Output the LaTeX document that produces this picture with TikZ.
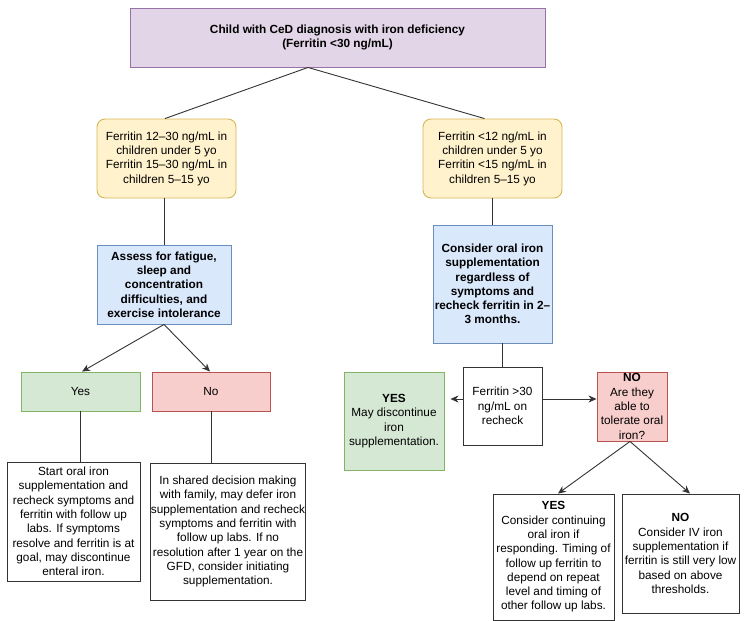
\documentclass[tikz,border=0pt]{standalone}
\usepackage{fontspec}
\setmainfont{Liberation Sans}
\usetikzlibrary{arrows.meta}
\definecolor{purF}{HTML}{E1D5E7}\definecolor{purD}{HTML}{9673A6}
\definecolor{yelF}{HTML}{FFF2CC}\definecolor{yelD}{HTML}{D6B656}
\definecolor{bluF}{HTML}{DAE8FC}\definecolor{bluD}{HTML}{6C8EBF}
\definecolor{grnF}{HTML}{D5E8D4}\definecolor{grnD}{HTML}{82B366}
\definecolor{redF}{HTML}{F8CECC}\definecolor{redD}{HTML}{B85450}
\definecolor{lineC}{HTML}{333333}
\begin{document}
\begin{tikzpicture}[x=1pt,y=-1pt,
  every node/.style={font=\fontsize{11.8}{14.3}\selectfont, align=center, inner sep=0pt, text=black},
  bold/.style={font=\fontsize{11.8}{14.3}\selectfont\bfseries},
  sz/.style 2 args={minimum width=#1pt, minimum height=#2pt},
  pur/.style={draw=purD, fill=purF, line width=0.9pt},
  yel/.style={draw=yelD, fill=yelF, line width=0.9pt, rounded corners=8pt},
  blu/.style={draw=bluD, fill=bluF, line width=0.9pt},
  grn/.style={draw=grnD, fill=grnF, line width=0.9pt},
  rdb/.style={draw=redD, fill=redF, line width=0.9pt},
  wht/.style={draw=lineC, fill=white, line width=0.9pt},
  ln/.style={draw=lineC, line width=0.9pt},
  arr/.style={draw=lineC, line width=0.9pt, -{Stealth[length=8pt,width=7pt,inset=2.5pt]}}]
\useasboundingbox (0,0) rectangle (748,621);

\node[pur, sz={415}{59}, bold] (top) at (337.5,37.5) {Child with CeD diagnosis with iron deficiency\\(Ferritin <30 ng/mL)};

\node[yel, sz={139}{79}] (ly) at (166.5,158.5) {Ferritin 12–30 ng/mL in\\children under 5 yo\\Ferritin 15–30 ng/mL in\\children 5–15 yo};
\node[yel, sz={139}{79}] (ry) at (492.5,158.5) {Ferritin <12 ng/mL in\\children under 5 yo\\Ferritin <15 ng/mL in\\children 5–15 yo};

\node[blu, sz={134}{79}, bold] (lb) at (164,284.5) {Assess for fatigue,\\sleep and\\concentration\\difficulties, and\\exercise intolerance};
\node[blu, sz={119}{118}, bold] (rb) at (492.5,284) {Consider oral iron\\supplementation\\regardless of\\symptoms and\\recheck ferritin in 2–\\3 months.};

\node[grn, sz={119}{39}] (yes) at (80.5,391.5) {Yes};
\node[rdb, sz={118}{39}] (no) at (211,391.5) {No};

\node[wht, sz={133}{119}] (start) at (73.5,521.5) {Start oral iron\\supplementation and\\recheck symptoms and\\ferritin with follow up\\labs. If symptoms\\resolve and ferritin is at\\goal, may discontinue\\enteral iron.};
\node[wht, sz={132}{137}] (nob) at (228,531.5) {In shared decision making\\with family, may defer iron\\supplementation and recheck\\symptoms and ferritin with\\follow up labs. If no\\resolution after 1 year on the\\GFD, consider initiating\\supplementation.};

\node[wht, sz={79}{78}] (fer) at (502.5,406) {Ferritin >30\\ng/mL on\\recheck};
\node[grn, sz={100}{98}] (gy) at (394,421) {\textbf{YES}\\May discontinue\\iron\\supplementation.};
\node[rdb, sz={70}{69}] (rn) at (632,406.5) {\textbf{NO}\\Are they\\able to\\tolerate oral\\iron?};

\node[wht, sz={121}{126}] (by) at (553.5,557) {\textbf{YES}\\Consider continuing\\oral iron if\\responding. Timing of\\follow up ferritin to\\depend on repeat\\level and timing of\\other follow up labs.};
\node[wht, sz={117}{119}] (bn) at (680.5,553.5) {\textbf{NO}\\Consider IV iron\\supplementation if\\ferritin is still very low\\based on above\\thresholds.};

\coordinate (apex) at ([xshift=-29.5pt]top.south);
\draw[ln] (apex) -- ([xshift=-1.5pt]ly.north);
\draw[ln] (apex) -- ([xshift=-8pt]ry.north);
\draw[ln] (lb.north |- ly.south) -- (lb.north);
\draw[ln] (ry.south) -- (rb.north);
\draw[arr] (lb.south) -- ([xshift=1.5pt]yes.north);
\draw[arr] (lb.south) -- ([xshift=-1pt]no.north);
\draw[ln] (yes.south) -- (yes.south |- start.north);
\draw[ln] (no.south) -- (no.south |- nob.north);
\draw[ln] (rb.south -| fer.north) -- (fer.north);
\draw[arr, shorten >=6pt] ([yshift=7pt]fer.west) -- ([yshift=7pt]fer.west -| gy.east);
\draw[arr] ([yshift=7pt]fer.east) -- ([yshift=7pt]fer.east -| rn.west);
\draw[arr] ([xshift=-2pt]rn.south) -- ([xshift=4.5pt]by.north);
\draw[arr] ([xshift=-2pt]rn.south) -- ([xshift=9.5pt]bn.north);
\end{tikzpicture}
\end{document}
